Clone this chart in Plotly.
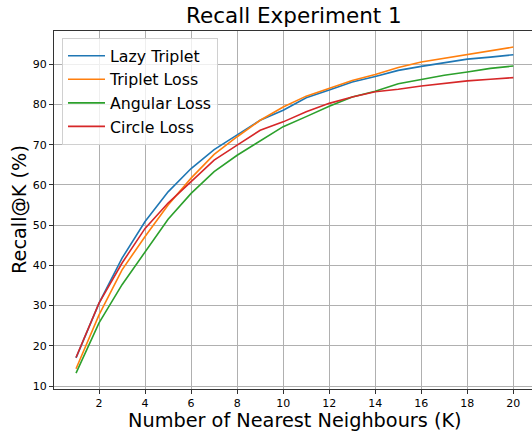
import plotly.graph_objects as go

k = list(range(1, 21))
lazy_triplet = [17.0, 30.6, 41.8, 50.9, 58.3, 64.1, 68.8, 72.4, 76.1, 78.6, 81.7, 83.6, 85.6, 87.0, 88.5, 89.5, 90.4, 91.3, 91.8, 92.4]
triplet_loss = [14.3, 27.7, 38.9, 47.2, 55.0, 61.7, 67.6, 72.0, 76.1, 79.4, 82.1, 84.1, 86.0, 87.5, 89.2, 90.6, 91.5, 92.4, 93.3, 94.3]
angular_loss = [13.2, 25.7, 35.2, 43.4, 51.5, 57.9, 63.3, 67.4, 70.9, 74.5, 77.0, 79.6, 81.9, 83.3, 85.2, 86.2, 87.3, 88.1, 89.0, 89.6]
circle_loss = [17.1, 30.6, 40.6, 49.2, 55.5, 60.8, 66.2, 69.9, 73.6, 75.7, 78.2, 80.3, 81.9, 83.2, 83.8, 84.6, 85.2, 85.9, 86.3, 86.7]

names = ["Lazy Triplet", "Triplet Loss", "Angular Loss", "Circle Loss"]
series = [lazy_triplet, triplet_loss, angular_loss, circle_loss]
colors = ["#1f77b4", "#ff7f0e", "#2ca02c", "#d62728"]
x_ticks = list(range(2, 21, 2))
y_ticks = list(range(10, 91, 10))

FONT = "DejaVu Sans"
W, H = 532, 434
L, R, T, B = 54, 0, 31, 45
PW = W - L - R
PH = H - T - B

fig = go.Figure()
for n, s, c in zip(names, series, colors):
    fig.add_trace(go.Scatter(x=k, y=s, mode="lines", name=n,
                             line=dict(color=c, width=1.6)))

fig.update_layout(
    width=W, height=H,
    margin=dict(l=L, r=R, t=T, b=B, autoexpand=False),
    plot_bgcolor="white", paper_bgcolor="white",
    font=dict(family=FONT, color="black", size=11),
    showlegend=True,
    legend=dict(x=(62 - L) / PW, y=1 - (38 - T) / PH, xanchor="left", yanchor="top",
                bgcolor="rgba(255,255,255,0.8)", bordercolor="#d0d0d0",
                borderwidth=1, font=dict(family=FONT, size=15.8, color="black"),
                itemwidth=37, tracegroupgap=0),
    annotations=[
        dict(text="Recall Experiment 1", xref="paper", yref="paper",
             x=(294 - L) / PW, y=1 + (T - 15) / PH, xanchor="center", yanchor="middle",
             showarrow=False, font=dict(family=FONT, size=21.5, color="black")),
        dict(text="Number of Nearest Neighbours (K)", xref="paper", yref="paper",
             x=(295 - L) / PW, y=-(420.5 - (T + PH)) / PH, xanchor="center", yanchor="middle",
             showarrow=False, font=dict(family=FONT, size=19.3, color="black")),
        dict(text="Recall@K (%)", xref="paper", yref="paper", textangle=-90,
             x=-(L - 19) / PW, y=0.5, xanchor="center", yanchor="middle",
             showarrow=False, font=dict(family=FONT, size=19.3, color="black")),
    ],
)

fig.update_xaxes(
    range=[0.043, 20.81], tickmode="array", tickvals=x_ticks,
    showgrid=True, gridcolor="#b0b0b0", gridwidth=1,
    showline=True, linecolor="#333333", linewidth=1.2, mirror=True,
    ticks="outside", ticklen=4, tickcolor="#333333",
    zeroline=False, automargin=False,
    tickfont=dict(family=FONT, size=11, color="black"),
)
fig.update_yaxes(
    range=[9.26, 98.3], tickmode="array", tickvals=y_ticks,
    showgrid=True, gridcolor="#b0b0b0", gridwidth=1,
    showline=True, linecolor="#333333", linewidth=1.2, mirror=False,
    ticks="outside", ticklen=4, tickcolor="#333333",
    zeroline=False, automargin=False,
    tickfont=dict(family=FONT, size=11, color="black"),
)

fig.write_html(
    "out.html",
    config={"displayModeBar": False},
    post_script="document.body.style.margin='0';document.body.style.overflow='hidden';",
)
